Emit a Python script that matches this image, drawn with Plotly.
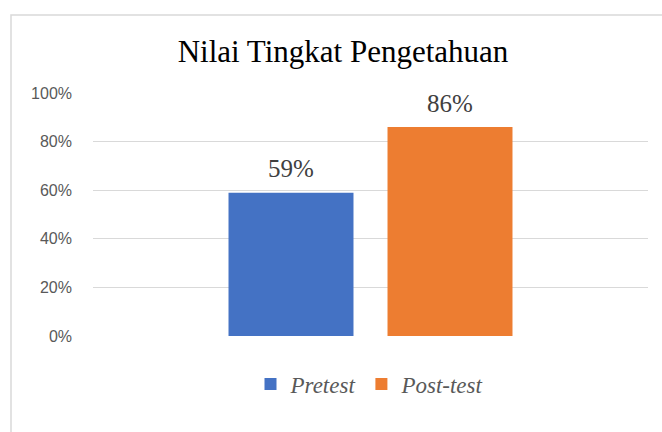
import plotly.graph_objects as go

categories = [""]
series_names = ["Pretest", "Post-test"]
pretest_values = [0.59]
posttest_values = [0.86]
colors = ["#4472C4", "#ED7D31"]
tick_vals = [0, 0.2, 0.4, 0.6, 0.8, 1.0]

fig = go.Figure()
for i, (name, vals, col) in enumerate(zip(series_names, [pretest_values, posttest_values], colors)):
    fig.add_trace(go.Bar(
        x=categories, y=vals, name=name, offsetgroup=str(i),
        marker=dict(color=col, line=dict(width=0)),
        hoverinfo="skip",
    ))
for i, (name, vals) in enumerate(zip(series_names, [pretest_values, posttest_values])):
    fig.add_trace(go.Scatter(
        x=categories, y=vals, name=name, offsetgroup=str(i), showlegend=False,
        mode="markers+text", marker=dict(size=13, opacity=0),
        texttemplate="%{y:.0%}", textposition="top center",
        textfont=dict(family="Liberation Serif", size=25, color="#404040"),
        cliponaxis=False, hoverinfo="skip",
    ))

fig.update_layout(
    width=662, height=432,
    margin=dict(l=93, r=14, t=93, b=96),
    paper_bgcolor="white", plot_bgcolor="white",
    barmode="group", bargap=0.427, bargroupgap=0.214,
    scattermode="group", scattergap=0.427,
    title=dict(text="Nilai Tingkat Pengetahuan", x=343/662, xref="container", xanchor="center",
               y=1-51/432, yref="container", yanchor="middle",
               font=dict(family="Liberation Serif", size=31, color="#000000")),
    showlegend=True,
    legend=dict(orientation="h", x=(370-93)/555, xanchor="center", y=-0.198, yanchor="middle",
                font=dict(family="Liberation Serif", size=23, color="#595959", style="italic"),
                itemwidth=30, traceorder="normal"),
    xaxis=dict(showticklabels=False, showgrid=False, zeroline=False, showline=False),
    yaxis=dict(range=[0, 1], tickvals=tick_vals, tickformat=".0%",
               showgrid=True, gridcolor="#D9D9D9", gridwidth=1.3,
               zeroline=False, showline=False, ticks="",
               ticklabelstandoff=20,
               tickfont=dict(family="Liberation Sans", size=16, color="#595959")),
    shapes=[dict(type="rect", xref="paper", yref="paper",
                 x0=(11-93)/555, x1=1.2, y0=-0.6, y1=(336-15)/243,
                 line=dict(color="#D9D9D9", width=1.5), fillcolor="rgba(0,0,0,0)", layer="below")],
)

fig.write_html("out.html", config={"displayModeBar": False},
               post_script="document.body.style.margin='0';")
